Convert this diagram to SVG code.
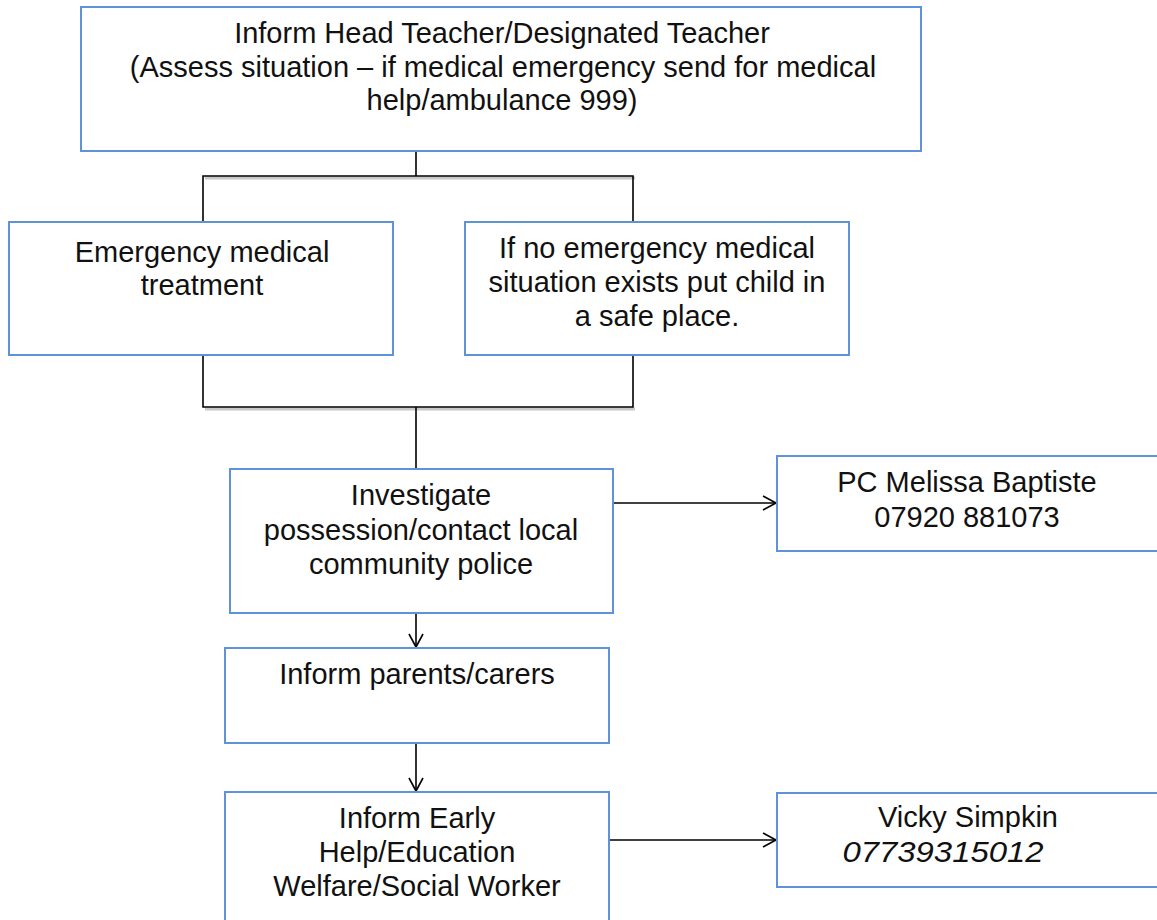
<svg xmlns="http://www.w3.org/2000/svg" width="1157" height="920" viewBox="0 0 1157 920">
<style>
.box{fill:#fff;stroke:#5f93d8;stroke-width:2}
.t{font-family:"Liberation Sans",Arial,sans-serif;font-size:29px;fill:#111;text-anchor:middle}
.i{font-style:italic}
.ln{fill:none;stroke:#000;stroke-width:1.6}
.sh{fill:none;stroke:#c8c8c8;stroke-width:3}
</style>
<defs>
<marker id="arr" markerWidth="16" markerHeight="16" refX="14" refY="8" orient="auto" markerUnits="userSpaceOnUse">
<path d="M1,1 L14,8 L1,15" fill="none" stroke="#000" stroke-width="1.6"/>
</marker>
</defs>
<rect width="1157" height="920" fill="#fff"/>
<g id="connectors">
<path class="sh" d="M205,178 H635 M205,409 H635"/>
<path class="ln" d="M416,151 V176 M203,222 V176 H633 V222 M203,355 V407 H633 V355 M416,407 V469"/>
<path class="ln" d="M416,613 V647" marker-end="url(#arr)"/>
<path class="ln" d="M416,743 V791" marker-end="url(#arr)"/>
<path class="ln" d="M610,503 H776" marker-end="url(#arr)"/>
<path class="ln" d="M609,840 H776" marker-end="url(#arr)"/>
</g>
<g id="n-top">
<rect class="box" x="81" y="7" width="840" height="144"/>
<text class="t" x="502" y="43">Inform Head Teacher/Designated Teacher</text>
<text class="t" x="503" y="77">(Assess situation – if medical emergency send for medical</text>
<text class="t" x="502" y="110">help/ambulance 999)</text>
</g>
<g id="n-emergency">
<rect class="box" x="9" y="222" width="384" height="133"/>
<text class="t" x="202" y="262">Emergency medical</text>
<text class="t" x="202" y="295">treatment</text>
</g>
<g id="n-safe">
<rect class="box" x="465" y="222" width="384" height="133"/>
<text class="t" x="657" y="258">If no emergency medical</text>
<text class="t" x="657" y="292">situation exists put child in</text>
<text class="t" x="657" y="326">a safe place.</text>
</g>
<g id="n-investigate">
<rect class="box" x="230" y="469" width="383" height="144"/>
<text class="t" x="421" y="505">Investigate</text>
<text class="t" x="421" y="540">possession/contact local</text>
<text class="t" x="421" y="574">community police</text>
</g>
<g id="n-police">
<rect class="box" x="777" y="456" width="400" height="95"/>
<text class="t" x="967" y="492">PC Melissa Baptiste</text>
<text class="t" x="967" y="527">07920 881073</text>
</g>
<g id="n-parents">
<rect class="box" x="225" y="648" width="384" height="95"/>
<text class="t" x="417" y="684">Inform parents/carers</text>
</g>
<g id="n-early">
<rect class="box" x="225" y="792" width="384" height="150"/>
<text class="t" x="417" y="828">Inform Early</text>
<text class="t" x="417" y="862">Help/Education</text>
<text class="t" x="417" y="896">Welfare/Social Worker</text>
</g>
<g id="n-vicky">
<rect class="box" x="777" y="793" width="400" height="94"/>
<text class="t" x="968" y="827">Vicky Simpkin</text>
<text class="t i" x="943" y="862" textLength="201" lengthAdjust="spacingAndGlyphs" text-anchor="middle">07739315012</text>
</g>
</svg>
